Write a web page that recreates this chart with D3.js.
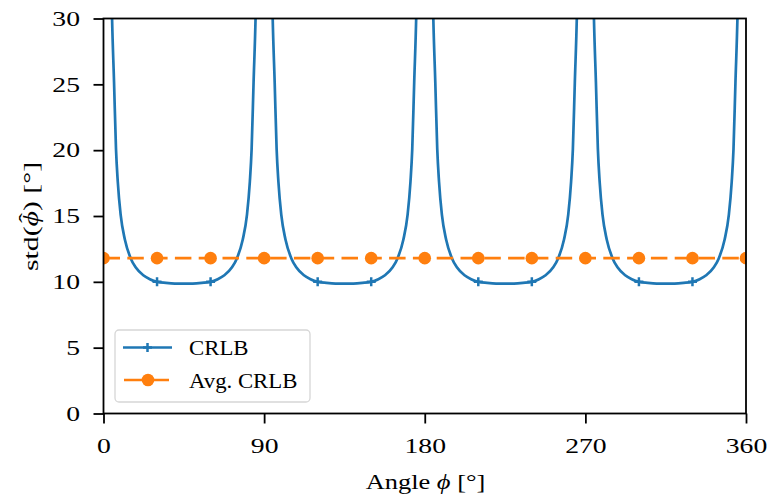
<!DOCTYPE html>
<html>
<head>
<meta charset="utf-8">
<script src="https://cdn.jsdelivr.net/npm/d3@7"></script>
<style>
  body { margin: 0; background: #fff; }
  svg text { font-family: "Liberation Serif", "DejaVu Serif", serif; fill: #000; }
</style>
</head>
<body>
<svg id="chart" width="767" height="496"></svg>
<script>
// CRLB curve (angle in deg, std in deg)
const crlbAngles = [
    1, 3, 4.8, 5.9, 7, 8, 9.6, 12, 15.2, 18, 22.3, 26, 30, 35, 40, 45, 50, 55, 60, 64, 67.7, 72, 74.8, 78, 80.4, 82, 83, 84.1, 85.2, 87, 89,
    91, 93, 94.8, 95.9, 97, 98, 99.6, 102, 105.2, 108, 112.3, 116, 120, 125, 130, 135, 140, 145, 150, 154, 157.7, 162, 164.8, 168, 170.4, 172, 173, 174.1, 175.2, 177, 179,
    181, 183, 184.8, 185.9, 187, 188, 189.6, 192, 195.2, 198, 202.3, 206, 210, 215, 220, 225, 230, 235, 240, 244, 247.7, 252, 254.8, 258, 260.4, 262, 263, 264.1, 265.2, 267, 269,
    271, 273, 274.8, 275.9, 277, 278, 279.6, 282, 285.2, 288, 292.3, 296, 300, 305, 310, 315, 320, 325, 330, 334, 337.7, 342, 344.8, 348, 350.4, 352, 353, 354.1, 355.2, 357, 359
];
const crlbValues = [
    80, 45, 30, 25.2, 20.1, 17.6, 15.1, 13.2, 11.8, 11.1, 10.5, 10.2, 10.0, 9.92, 9.87, 9.86, 9.87, 9.92, 10.0, 10.2, 10.5, 11.1, 11.8, 13.2, 15.1, 17.6, 20.1, 25.2, 30, 45, 80,
    80, 45, 30, 25.2, 20.1, 17.6, 15.1, 13.2, 11.8, 11.1, 10.5, 10.2, 10.0, 9.92, 9.87, 9.86, 9.87, 9.92, 10.0, 10.2, 10.5, 11.1, 11.8, 13.2, 15.1, 17.6, 20.1, 25.2, 30, 45, 80,
    80, 45, 30, 25.2, 20.1, 17.6, 15.1, 13.2, 11.8, 11.1, 10.5, 10.2, 10.0, 9.92, 9.87, 9.86, 9.87, 9.92, 10.0, 10.2, 10.5, 11.1, 11.8, 13.2, 15.1, 17.6, 20.1, 25.2, 30, 45, 80,
    80, 45, 30, 25.2, 20.1, 17.6, 15.1, 13.2, 11.8, 11.1, 10.5, 10.2, 10.0, 9.92, 9.87, 9.86, 9.87, 9.92, 10.0, 10.2, 10.5, 11.1, 11.8, 13.2, 15.1, 17.6, 20.1, 25.2, 30, 45, 80
];
// average CRLB, flat line with dots every 30 deg
const avgAngles = [0, 30, 60, 90, 120, 150, 180, 210, 240, 270, 300, 330, 360];
const avgValues = [11.8, 11.8, 11.8, 11.8, 11.8, 11.8, 11.8, 11.8, 11.8, 11.8, 11.8, 11.8, 11.8];

const xTicks = [0, 90, 180, 270, 360];
const yTicks = [0, 5, 10, 15, 20, 25, 30];
const legendLabels = ["CRLB", "Avg. CRLB"];

const blue = "#1f77b4", orange = "#ff7f0e";

const pLeft = 103.5, pRight = 746, pTop = 18.5, pBottom = 413.5;
const tickStretch = 1.35; // the reference glyphs are wider than Liberation Serif
const svg = d3.select("#chart");

const x = d3.scaleLinear().domain([0, 360]).range([pLeft, pRight]);
const y = d3.scaleLinear().domain([0, 30]).range([pBottom, pTop]);

svg.append("defs").append("clipPath").attr("id", "plotclip")
    .append("rect")
    .attr("x", pLeft).attr("y", pTop)
    .attr("width", pRight - pLeft).attr("height", pBottom - pTop);

const plot = svg.append("g").attr("clip-path", "url(#plotclip)");

const crlb = crlbAngles.map((a, i) => ({ a: a, v: crlbValues[i] }));
const avg = avgAngles.map((a, i) => ({ a: a, v: avgValues[i] }));

const line = d3.line()
    .x(d => x(d.a))
    .y(d => y(d.v))
    .curve(d3.curveMonotoneX);

plot.append("path")
    .datum(crlb)
    .attr("d", line)
    .attr("fill", "none")
    .attr("stroke", blue)
    .attr("stroke-width", 2.7);

// "+" markers every 30 deg
plot.selectAll(".plus")
    .data(crlb.filter(d => d.a % 30 === 0 && d.v <= 30))
    .enter().append("path")
    .attr("class", "plus")
    .attr("d", d => `M${x(d.a) - 4.5},${y(d.v)}H${x(d.a) + 4.5}M${x(d.a)},${y(d.v) - 4.5}V${y(d.v) + 4.5}`)
    .attr("stroke", blue)
    .attr("stroke-width", 2.5);

plot.append("path")
    .datum(avg)
    .attr("d", d3.line().x(d => x(d.a)).y(d => y(d.v)))
    .attr("fill", "none")
    .attr("stroke", orange)
    .attr("stroke-width", 2.7)
    .attr("stroke-dasharray", "16.5,7.3");

plot.selectAll(".dot")
    .data(avg)
    .enter().append("circle")
    .attr("class", "dot")
    .attr("cx", d => x(d.a))
    .attr("cy", d => y(d.v))
    .attr("r", 6.3)
    .attr("fill", orange);

// axes
const xAxis = svg.append("g")
    .attr("transform", `translate(0,${pBottom})`)
    .call(d3.axisBottom(x).tickValues(xTicks).tickSize(10));
const yAxis = svg.append("g")
    .attr("transform", `translate(${pLeft},0)`)
    .call(d3.axisLeft(y).tickValues(yTicks).tickSize(10));

[xAxis, yAxis].forEach(g => {
    g.attr("font-size", null).attr("font-family", null);
    g.select(".domain").remove();
    g.selectAll(".tick line").attr("stroke", "#000").attr("stroke-width", 1.8);
    g.selectAll(".tick text")
        .attr("font-size", "20.5px")
        .attr("transform", `scale(${tickStretch},1)`);
});
xAxis.selectAll(".tick text").attr("y", 39.2).attr("dy", null);
yAxis.selectAll(".tick text").attr("x", -23.5 / tickStretch).attr("dy", "0.33em");

svg.append("rect")
    .attr("x", pLeft).attr("y", pTop)
    .attr("width", pRight - pLeft).attr("height", pBottom - pTop)
    .attr("fill", "none")
    .attr("stroke", "#000")
    .attr("stroke-width", 1.8);

// axis labels
const xl = svg.append("g")
    .attr("transform", "translate(425.5,489) scale(1.26,1)")
    .append("text")
    .attr("text-anchor", "middle")
    .attr("font-size", "21px");
xl.append("tspan").text("Angle ");
xl.append("tspan").attr("font-style", "italic").text("ϕ");
xl.append("tspan").text(" [°]");

const yl = svg.append("g")
    .attr("transform", "translate(38.3,216.5) rotate(-90) scale(1.42,1)")
    .append("text")
    .attr("text-anchor", "middle")
    .attr("font-size", "21px");
yl.append("tspan").text("std(");
yl.append("tspan").attr("font-style", "italic").text("ϕ");
yl.append("tspan").attr("dx", -8.5).attr("dy", -4).text("ˆ");
yl.append("tspan").attr("dx", 1.5).attr("dy", 4).text(") [°]");

// legend
const lg = svg.append("g");
lg.append("rect")
    .attr("x", 115).attr("y", 330)
    .attr("width", 195).attr("height", 72)
    .attr("rx", 4)
    .attr("fill", "#fff").attr("fill-opacity", 0.8)
    .attr("stroke", "#d6d6d6").attr("stroke-width", 1.3);

const rows = [347.5, 380];
lg.append("line").attr("x1", 123).attr("x2", 172).attr("y1", rows[0]).attr("y2", rows[0])
    .attr("stroke", blue).attr("stroke-width", 2.7);
lg.append("path").attr("d", `M${147.5 - 4.5},${rows[0]}H${147.5 + 4.5}M147.5,${rows[0] - 4.5}V${rows[0] + 4.5}`)
    .attr("stroke", blue).attr("stroke-width", 2.5);
lg.append("line").attr("x1", 124).attr("x2", 169).attr("y1", rows[1]).attr("y2", rows[1])
    .attr("stroke", orange).attr("stroke-width", 2.7);
lg.append("circle").attr("cx", 148).attr("cy", rows[1]).attr("r", 6.3).attr("fill", orange);

legendLabels.forEach((t, i) => {
    lg.append("g")
        .attr("transform", `translate(189,${rows[i] + 7.5}) scale(1.06,1)`)
        .append("text")
        .attr("font-size", "21.5px")
        .text(t);
});
</script>
</body>
</html>
